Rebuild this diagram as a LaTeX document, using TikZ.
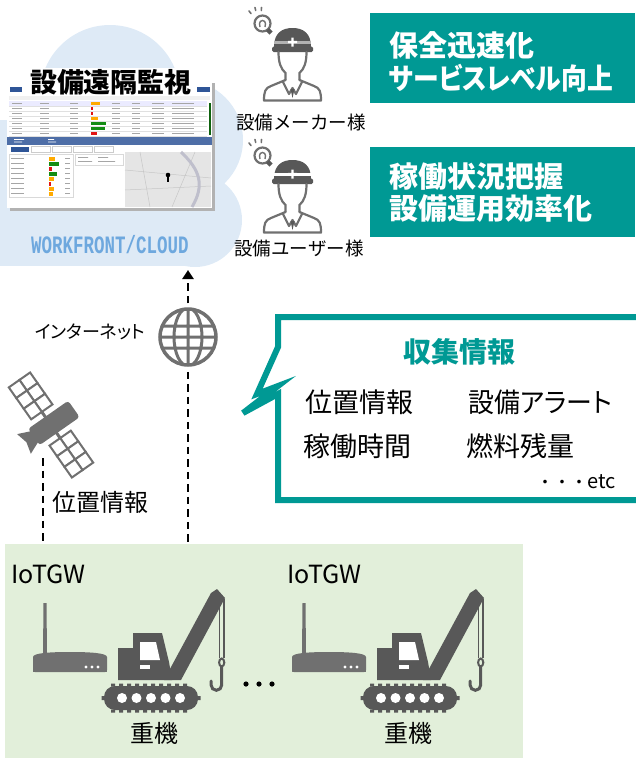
\documentclass[tikz,border=0pt]{standalone}
\usepackage{fontspec}
\setmainfont{Noto Sans CJK JP}
\newfontfamily\palt{Noto Sans CJK JP}[RawFeature=+palt]
\newfontfamily\cloudfont{Liberation Mono}[FakeStretch=0.7]
\usetikzlibrary{arrows.meta}

\definecolor{wfteal}{RGB}{0,153,148}
\definecolor{cloudblue}{RGB}{222,234,246}
\definecolor{cloudtext}{RGB}{110,168,222}
\definecolor{fieldgreen}{RGB}{226,239,218}
\definecolor{icongray}{RGB}{112,112,112}
\definecolor{cranegray}{RGB}{88,88,88}
\definecolor{uiblue}{RGB}{47,85,151}
\definecolor{uiorange}{RGB}{255,170,0}
\definecolor{uired}{RGB}{225,20,20}
\definecolor{uigreen}{RGB}{20,140,20}

\tikzset{
  txt/.style={inner sep=0pt, text=black},
  boxtext/.style={txt, anchor=west, text=white, font=\palt\bfseries\fontsize{29}{33}\selectfont},
  infotext/.style={txt, anchor=west, font=\palt\fontsize{27}{30}\selectfont},
  title/.style={txt, font=\palt\bfseries\fontsize{27}{30}\selectfont},
  outline/.style={draw=icongray, line width=2.2pt, line cap=round},
  flow/.style={draw=black, line width=2.4pt, dash pattern=on 7.5pt off 5pt},
  flowtip/.style={-{Triangle[width=11pt,length=9pt]}},
}

\begin{document}
\begin{tikzpicture}[x=1pt,y=-1pt]
    \useasboundingbox (0,0) rectangle (635,763);

    % クラウド
    \begin{scope}
        \clip (0,0) rectangle (635,763);
        \fill[cloudblue] (110,95) circle (70) (183,140) circle (60)
            (30,170) circle (55) (195,220) circle (47);
        \fill[cloudblue] (0,120) rectangle (200,266);
    \end{scope}

    % 監視画面
    \fill[black!30] (10,83) rectangle (215,211);
    \fill[white] (7,80) rectangle (212,208);
    \fill[uiblue] (10,87) rectangle (22,92);
    \fill[uiblue] (197,87) rectangle (210,92);
    \fill[black!6] (9,96) rectangle (210,100);
    \fill[blue!8] (9,101) rectangle (207,106);
    \foreach \r/\c/\w in {0/uiorange/9,1/uired/2,2/uired/2,3/uiorange/7,4/uigreen/15,5/uigreen/14,6/uired/6}{
        \draw[black!12, line width=0.3pt] (9,106+5*\r) -- (207,106+5*\r);
        \fill[\c] (91,102+5*\r) rectangle (91+\w,105+5*\r);
        \foreach \x/\l in {12/10,40/9,70/8,112/8,132/8,152/12,172/22}
            \fill[black!35] (\x,103.2+5*\r) rectangle (\x+\l,104+5*\r);
    }
    \fill[uigreen!70!black] (208.5,103) rectangle (210.5,135);
    \fill[uiblue!85] (7,137) rectangle (212,145);
    \fill[white] (14,139) rectangle (24,139.8) (14,141.5) rectangle (22,142.3)
        (48,139) rectangle (54,139.8) (48,141.5) rectangle (56,142.3);
    \fill[uiblue] (11,146.5) rectangle (29,152);
    \foreach \x in {31,52,73,94}
        \draw[black!20, line width=0.3pt] (\x,146.5) rectangle (\x+19,152);
    \foreach \r/\c/\w in {0/uiorange/6,1/uigreen/10,2/uired/3,3/uigreen/8,4/uiorange/5,5/uired/2,6/uiorange/5,7/uiorange/4}{
        \fill[\c] (49,157+5*\r) rectangle (49+\w,160.5+5*\r);
        \fill[black!35] (11,158.3+5*\r) rectangle (24,159+5*\r);
        \fill[black!35] (65,158.3+5*\r) rectangle (70,159+5*\r);
    }
    \draw[black!15, line width=0.3pt] (9,154) rectangle (73,197);
    \draw[black!15, line width=0.3pt] (75,154) rectangle (123,165);
    \fill[black!35] (78,157) rectangle (88,157.8) (98,157) rectangle (108,157.8)
        (78,161) rectangle (92,161.8) (98,161) rectangle (115,161.8);
    \fill[black!10] (125,152) rectangle (211,207);
    \draw[black!22, line width=0.5pt] (125,170) -- (211,178) (140,152) -- (150,207)
        (125,190) -- (211,186) (195,152) -- (172,207);
    \draw[blue!20!black!25, line width=3pt] (181,152) .. controls (200,170) and (205,185) .. (192,207);
    \fill[black] (168,175) circle (2.3);
    \fill[black] (166.8,176) rectangle (169.2,182);

    % 画面タイトル
    \node[title, fill=white, inner xsep=2pt, inner ysep=1pt, rounded corners=3pt] (title) at (111,82) {設備遠隔監視};
    \node[txt, text=cloudtext, font=\cloudfont\bfseries\fontsize{25}{25}\selectfont]
        (cloudname) at (110,245) {WORKFRONT/CLOUD};

    % メーカー・ユーザー
    \foreach \dy/\band in {0/black!30, 132/white}{
        \begin{scope}[shift={(0,\dy)}]
            \draw[icongray, line width=2.2pt] (262.5,23.5) circle (8);
            \draw[icongray, line width=1.4pt] (260,27) -- (259.5,23.5) arc (180:360:3) -- (265,27);
            \draw[cranegray, line width=4.5pt] (267.5,29.5) -- (271,33);
            \draw[icongray, line width=1.6pt, line cap=round] (249,11) -- (251,13.5)
                (255,7.5) -- (255.7,10.5) (261.5,7.5) -- (261.3,10.5);
            \fill[cranegray] (274,47) .. controls (274,33) and (282,28) .. (292.5,28)
                .. controls (303,28) and (311,33) .. (311,47) -- cycle;
            \fill[cranegray, rounded corners=1.5pt] (272,46.5) rectangle (313,52);
            \fill[\band] (274.3,41) rectangle (310.7,43.5);
            \fill[white] (291.3,37.5) rectangle (293.7,46.5) (288,40.8) rectangle (297,43.2);
            \draw[outline] (278.5,52) .. controls (278.5,63) and (281,69) .. (285.5,73) -- (285.5,80);
            \draw[outline] (306.5,52) .. controls (306.5,63) and (304,69) .. (299.5,73) -- (299.5,80);
            \draw[outline, line join=round] (285.5,80) -- (271,86) .. controls (265,88) and (264,92) .. (264,100.5)
                -- (321,100.5) .. controls (321,92) and (320,88) .. (314,86) -- (299.5,80);
            \draw[outline, line join=round] (283,82) -- (289,94) -- (292.5,88) -- (296,94) -- (302,82);
            \fill[cranegray] (290.5,89) -- (294.5,89) -- (292.5,98) -- cycle;
        \end{scope}
    }
    \node[txt, font=\fontsize{18.5}{20}\selectfont] (maker) at (301,122) {設備メーカー様};
    \node[txt, font=\fontsize{18.5}{20}\selectfont] (user) at (299,248) {設備ユーザー様};

    % 効果
    \fill[wfteal] (370,13) rectangle (635,103);
    \fill[wfteal] (370,147) rectangle (635,237);
    \node[boxtext] (m1) at (389,45) {保全迅速化};
    \node[boxtext] (m2) at (389,78) {\scalebox{0.89}[1]{サービスレベル向上}};
    \node[boxtext] (u1) at (389,177) {稼働状況把握};
    \node[boxtext] (u2) at (389,209) {設備運用効率化};

    % インターネット
    \node[circle, draw=icongray, line width=3.5pt, minimum size=56pt, inner sep=0pt] (globe) at (188,337) {};
    \begin{scope}
        \clip (188,337) circle (27);
        \draw[icongray, line width=3pt] (188,308) -- (188,366)
            (159,326) -- (217,326) (159,337) -- (217,337) (159,348) -- (217,348)
            (188,337) ellipse (14 and 29);
    \end{scope}
    \node[txt, font=\palt\fontsize{18}{20}\selectfont] (net) at (90,332) {インターネット};
    \coordinate (cloudin) at (188,270);
    \coordinate (fieldin) at (188,557);
    \draw[flow, flowtip, shorten <=4pt] (globe) -- (cloudin);
    \draw[flow, shorten <=5pt] (globe) -- (fieldin);

    % 衛星
    \begin{scope}[shift={(51,425)}, rotate=-55]
        \foreach \i in {0,1,2}
            \foreach \j in {0,1}{
                \draw[icongray, line width=2pt, fill=white] (-55+13*\i,-13+13*\j) rectangle +(13,13);
                \draw[icongray, line width=2pt, fill=white] (16+13*\i,-13+13*\j) rectangle +(13,13);
            }
        \draw[icongray, line width=3pt] (-16,0) -- (16,0);
        \fill[icongray, rounded corners=3pt] (-10,-28) rectangle (10,21);
        \fill[icongray] (-6,19) -- (-12,33) -- (0,30) -- (12,33) -- (6,19) -- cycle;
    \end{scope}
    \coordinate (satout) at (43,458);
    \coordinate (gwin) at (43,553);
    \draw[flow, flowtip] (satout) -- (gwin);
    \node[txt, font=\fontsize{24}{26}\selectfont] (satinfo) at (100,502) {位置情報};

    % 収集情報
    \filldraw[fill=white, draw=wfteal, line width=6pt] (645,317) -- (278,317) -- (278,347)
        -- (257,394) -- (278,386) -- (243,413) -- (278,394) -- (278,500) -- (645,500);
    \node[txt, text=wfteal, font=\palt\bfseries\fontsize{28}{30}\selectfont] (info) at (459,352) {収集情報};
    \node[infotext] (i1) at (305,402) {位置情報};
    \node[infotext] (i2) at (468,402) {\scalebox{0.96}[1]{設備アラート}};
    \node[infotext] (i3) at (303,446) {稼働時間};
    \node[infotext] (i4) at (466,446) {燃料残量};
    \node[txt, anchor=east, font=\fontsize{17}{19}\selectfont] (etc) at (616,482) {・・・{\fontsize{20}{22}\selectfont etc}};

    % 現場
    \fill[fieldgreen] (5,544) rectangle (523,758);
    \foreach \dx in {0,259}{
        \begin{scope}[shift={(\dx,0)}]
            % IoTGW
            \fill[icongray] (43.5,603) -- (46.5,603) -- (47,654) -- (43,654) -- cycle;
            \fill[icongray] (33,670) -- (33,657) .. controls (33,653) and (50,652) .. (70,652)
                .. controls (90,652) and (107,653) .. (107,657) -- (107,670)
                .. controls (107,672) .. (105,672) -- (35,672) .. controls (33,672) .. (33,670) -- cycle;
            \fill[white] (86,667) circle (1.6) (92,667) circle (1.6) (98,667) circle (1.6);
            % 重機
            \fill[cranegray] (118,648) -- (133,648) -- (133,633) -- (162,633) -- (169,662)
                -- (172,680) -- (118,680) -- cycle;
            \fill[white] (140,642) -- (156,642) -- (160,660) -- (140,660) -- cycle;
            \fill[white] (140,665) rectangle (150,668.5);
            \fill[cranegray] (164,680) -- (181,680) -- (225,598) -- (217,589) -- (211,593) -- cycle;
            \draw[cranegray, line width=1.3pt] (219.5,596) -- (219.5,658) (224,599) -- (224,658);
            \draw[cranegray, line width=2pt] (221.7,662.5) ellipse (2.6 and 4);
            \draw[cranegray, line width=3pt, line cap=round] (221.7,667) -- (221.7,685)
                arc (0:180:5.3) -- (211.1,681);
            \fill[cranegray, rounded corners=11pt] (104,686) rectangle (198,710);
            \foreach \x in {113,121,...,190}
                \fill[cranegray] (\x-2,683.5) rectangle (\x+2,686.5) (\x-2,709.5) rectangle (\x+2,712.5);
            \fill[cranegray] (101.5,696) rectangle (104.5,700) (197.5,696) rectangle (200.5,700);
            \foreach \i in {0,...,4}
                \fill[white] (122+14.5*\i,698) circle (5);
        \end{scope}
    }
    \fill[black] (246,684) circle (2.6) (259,684) circle (2.6) (272,684) circle (2.6);
    \node[txt, anchor=west, font=\fontsize{25}{27}\selectfont] (gw1) at (11,574) {IoTGW};
    \node[txt, anchor=west, font=\fontsize{25}{27}\selectfont] (gw2) at (287,574) {IoTGW};
    \node[txt, font=\fontsize{24}{26}\selectfont] (k1) at (154,733) {重機};
    \node[txt, font=\fontsize{24}{26}\selectfont] (k2) at (408,733) {重機};
\end{tikzpicture}
\end{document}
